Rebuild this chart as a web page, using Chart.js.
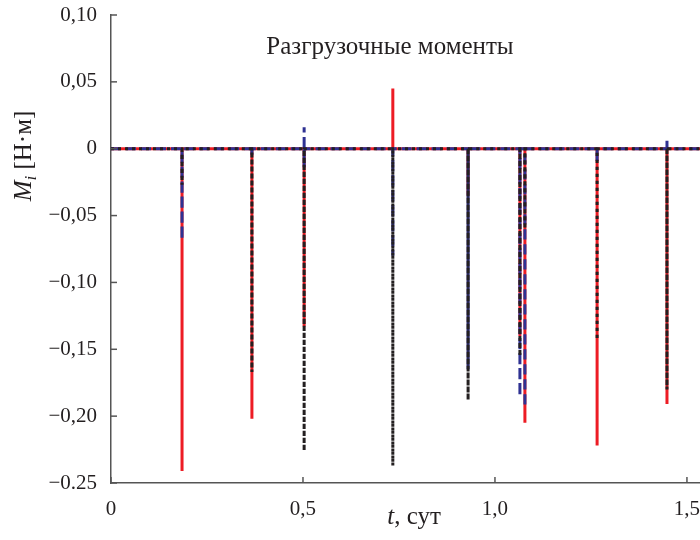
<!DOCTYPE html>
<html>
<head>
<meta charset="utf-8">
<script src="https://cdn.jsdelivr.net/npm/chart.js@4/dist/chart.umd.min.js"></script>
<style>
  body { margin: 0; background: #fff; }
  #wrap { width: 700px; height: 540px; }
</style>
</head>
<body>
<div id="wrap"><canvas id="momentChart" width="700" height="540"></canvas></div>
<script>
// axes
const xMax = 1.534;
const xTickValues = [0, 0.5, 1.0, 1.5];
const xTickLabels = ['0', '0,5', '1,0', '1,5'];
const yTickValues = [0.10, 0.05, 0, -0.05, -0.10, -0.15, -0.20, -0.25];
const yTickLabels = ['0,10', '0,05', '0', '\u22120,05', '\u22120,10', '\u22120,15', '\u22120,20', '\u22120.25'];

// unloading moments: spike times (days) and peak values (N*m) per series
const redTimes   = [0.185, 0.367, 0.503, 0.734, 0.930, 1.065, 1.078, 1.266, 1.448];
const redPeaks   = [-0.241, -0.202, -0.133, 0.045, -0.035, -0.140, -0.205, -0.222, -0.191];
const blueTimes  = [0.185, 0.367, 0.503, 0.503, 0.734, 0.930, 1.065, 1.078, 1.266, 1.448];
const bluePeaks  = [-0.068, -0.005, 0.016, -0.014, -0.080, -0.165, -0.185, -0.193, -0.010, 0.007];
const blackTimes = [0.185, 0.367, 0.503, 0.734, 0.930, 1.065, 1.078, 1.266, 1.448];
const blackPeaks = [-0.027, -0.167, -0.226, -0.237, -0.188, -0.155, -0.060, -0.143, -0.180];

function spikeSeries(times, peaks) {
    const pts = [{ x: 0, y: 0 }];
    times.forEach((t, i) => {
        pts.push({ x: t, y: 0 }, { x: t, y: peaks[i] }, { x: t, y: 0 });
    });
    pts.push({ x: xMax, y: 0 });
    return pts;
}

const serif = '"Liberation Serif", "DejaVu Serif", serif';

// text and inward tick marks
const decorPlugin = {
    id: 'decor',
    afterDraw(chart) {
        const ctx = chart.ctx;
        const xs = chart.scales.x, ys = chart.scales.y;
        const area = chart.chartArea;
        ctx.save();
        ctx.strokeStyle = '#555';
        ctx.lineWidth = 1.5;
        xTickValues.forEach(v => {
            const px = xs.getPixelForValue(v);
            ctx.beginPath();
            ctx.moveTo(px, area.bottom);
            ctx.lineTo(px, area.bottom - 6);
            ctx.stroke();
        });
        yTickValues.forEach(v => {
            const py = ys.getPixelForValue(v);
            ctx.beginPath();
            ctx.moveTo(area.left, py);
            ctx.lineTo(area.left + 6, py);
            ctx.stroke();
        });

        ctx.fillStyle = '#231f20';
        ctx.textBaseline = 'alphabetic';

        // title inside plot
        ctx.font = '25px ' + serif;
        ctx.textAlign = 'center';
        ctx.fillText('Разгрузочные моменты', 390, 54);

        // x axis title: "t, сут"
        ctx.textAlign = 'left';
        ctx.font = 'italic 25px ' + serif;
        const tW = ctx.measureText('t').width;
        ctx.font = '25px ' + serif;
        const restW = ctx.measureText(', сут').width;
        let sx = 414 - (tW + restW) / 2;
        ctx.font = 'italic 25px ' + serif;
        ctx.fillText('t', sx, 524);
        ctx.font = '25px ' + serif;
        ctx.fillText(', сут', sx + tW, 524);

        // y axis title: "M_i [Н·м]"
        ctx.translate(31, 156);
        ctx.rotate(-Math.PI / 2);
        ctx.font = 'italic 25px ' + serif;
        const mW = ctx.measureText('M').width;
        ctx.font = 'italic 17px ' + serif;
        const iW = ctx.measureText('i').width;
        ctx.font = '25px ' + serif;
        const uW = ctx.measureText(' [Н·м]').width;
        let ox = -(mW + iW + uW) / 2;
        ctx.font = 'italic 25px ' + serif;
        ctx.fillText('M', ox, 0);
        ctx.font = 'italic 17px ' + serif;
        ctx.fillText('i', ox + mW, 5);
        ctx.font = '25px ' + serif;
        ctx.fillText(' [Н·м]', ox + mW + iW, 0);
        ctx.restore();
    }
};

document.addEventListener('DOMContentLoaded', function() {
    const canvas = document.getElementById('momentChart');
    new Chart(canvas.getContext('2d'), {
        type: 'scatter',
        data: {
            datasets: [
                {
                    label: 'M1',
                    data: spikeSeries(redTimes, redPeaks),
                    borderColor: '#ed1c24',
                    borderWidth: 3,
                    order: 2
                },
                {
                    label: 'M2',
                    data: spikeSeries(blueTimes, bluePeaks),
                    borderColor: '#2e3192',
                    borderWidth: 3,
                    borderDash: [10, 5],
                    order: 1
                },
                {
                    label: 'M3',
                    data: spikeSeries(blackTimes, blackPeaks),
                    borderColor: '#231f20',
                    borderWidth: 3,
                    borderDash: [3, 4],
                    order: 0
                }
            ].map(ds => Object.assign(ds, { showLine: true, pointRadius: 0, fill: false, tension: 0 }))
        },
        options: {
            responsive: false,
            animation: false,
            layout: { padding: { top: 15, right: 0, left: 0, bottom: 0 } },
            plugins: {
                legend: { display: false },
                tooltip: { enabled: false }
            },
            scales: {
                x: {
                    type: 'linear',
                    min: 0,
                    max: xMax,
                    grid: { display: false },
                    border: { display: true, color: '#555', width: 1.5 },
                    afterBuildTicks: s => { s.ticks = xTickValues.map(v => ({ value: v })); },
                    afterFit: s => { s.height = 57; s.paddingLeft = 0; s.paddingRight = 0; },
                    ticks: {
                        padding: 6,
                        color: '#231f20',
                        font: { family: serif, size: 21 },
                        maxRotation: 0,
                        callback: v => xTickLabels[xTickValues.indexOf(v)]
                    }
                },
                y: {
                    min: -0.25,
                    max: 0.10,
                    grid: { display: false },
                    border: { display: true, color: '#555', width: 1.5 },
                    afterBuildTicks: s => { s.ticks = yTickValues.map(v => ({ value: v })); },
                    afterFit: s => { s.width = 111; s.paddingTop = 0; s.paddingBottom = 0; },
                    ticks: {
                        padding: 6,
                        color: '#231f20',
                        font: { family: serif, size: 21 },
                        callback: v => {
                            const i = yTickValues.findIndex(t => Math.abs(t - v) < 1e-9);
                            return i >= 0 ? yTickLabels[i] : '';
                        }
                    }
                }
            }
        },
        plugins: [decorPlugin]
    });
});
</script>
</body>
</html>
